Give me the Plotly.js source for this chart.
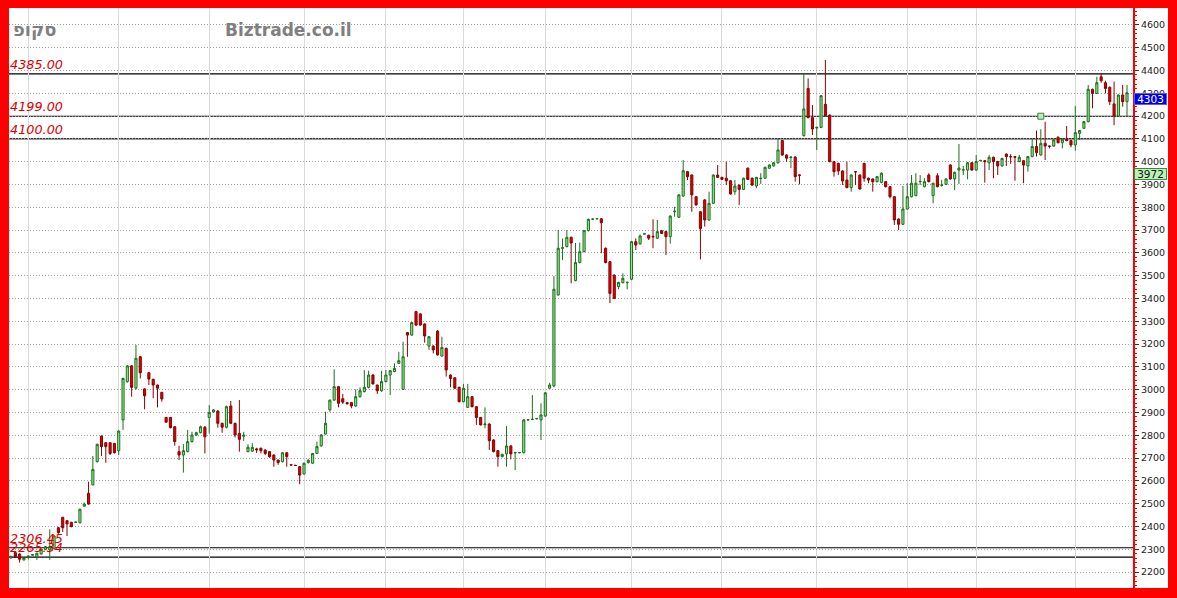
<!DOCTYPE html>
<html><head><meta charset="utf-8">
<script src="https://cdn.plot.ly/plotly-3.0.1.min.js"></script>
<style>html,body{margin:0;padding:0;background:#ff0000;overflow:hidden}#chart{width:1177px;height:598px}</style>
</head><body><div id="chart"></div>
<script>
// ---- data ----
const openP = [2262,2285,2279,2253,2264,2274,2267,2279,2299,2298,2304,2394,2440,2425,2418,2418,2416,2489,2545,2582,
2684,2796,2767,2767,2764,2732,2867,3035,3104,3006,3144,3003,3074,3045,3020,2988,2878,2878,2837,2728,
2713,2728,2772,2801,2811,2835,2878,2902,2906,2852,2835,2928,2852,2808,2795,2728,2730,2740,2743,2735,
2728,2713,2691,2684,2723,2670,2668,2662,2630,2680,2677,2720,2753,2805,2911,2954,3013,2960,2943,2943,
2928,2969,2991,3010,3064,3020,2995,3035,3064,3079,3115,3001,3250,3239,3342,3332,3288,3191,3191,3257,
3147,3181,3064,3052,3010,2947,2922,2969,2925,2878,2846,2849,2779,2732,2706,2718,2753,2722,2723,2723,
2867,2869,2872,2867,2884,3006,3016,3415,3620,3627,3668,3478,3557,3605,3697,3747,3749,3749,3620,3561,
3502,3452,3469,3469,3484,3649,3639,3682,3677,3672,3664,3697,3693,3671,3780,3756,3849,3956,3941,3846,
3780,3832,3744,3817,3941,3931,3927,3916,3868,3897,3878,3971,3927,3893,3926,3927,3971,3981,3995,4092,
4029,4018,4020,3941,4114,4321,4193,4147,4150,4251,4204,4000,3992,3959,3919,3886,3956,3941,3992,3927,
3924,3912,3909,3912,3890,3846,3748,3725,3792,3846,3851,3912,3890,3941,3851,3938,3896,3900,3985,3924,
3963,3963,3963,3995,3963,4004,4004,3995,4019,4000,3981,4033,4022,4022,4000,4004,3981,4022,4066,4029,
4080,4068,4068,4107,4083,4098,4092,4073,4124,4146,4175,4317,4299,4372,4346,4326,4253,4200,4292,4263];
const highP = [2272,2288,2282,2266,2273,2278,2285,2302,2314,2387,2362,2398,2442,2428,2420,2420,2478,2505,2596,2709,
2763,2799,2770,2770,2766,2822,3052,3108,3108,3196,3148,3006,3078,3048,3022,2990,2880,2880,2840,2754,
2761,2823,2815,2815,2842,2840,2932,2914,2909,2855,2930,2950,2855,2954,2815,2760,2765,2745,2745,2738,
2730,2716,2693,2726,2726,2672,2670,2665,2680,2695,2722,2772,2805,2903,2956,3089,3016,2981,2946,2946,
3001,3010,3086,3083,3067,3022,3082,3086,3086,3115,3166,3210,3252,3297,3345,3335,3290,3235,3194,3260,
3232,3184,3067,3055,3013,3025,3025,2972,2928,2880,2922,2852,2782,2735,2719,2840,2756,2727,2726,2870,
2870,2976,2876,2940,2989,3030,3498,3700,3663,3700,3671,3643,3645,3700,3750,3750,3752,3752,3623,3564,
3505,3473,3510,3475,3652,3663,3680,3685,3679,3747,3744,3699,3695,3764,3802,3857,4007,3958,3944,3848,
3783,3835,3868,3944,3985,3933,4000,3919,3919,3899,3930,3974,3930,3933,3949,3978,3988,3998,4102,4095,
4032,4023,4023,3944,4387,4365,4248,4153,4292,4446,4207,4003,3995,3962,4000,3944,3958,3944,3995,3930,
3926,3937,3953,3915,3893,3849,3751,3893,3905,3941,3949,3941,3927,3949,3908,3949,3920,3927,3988,3956,
4077,3981,3998,3998,4029,4008,4007,4029,4022,4003,4017,4036,4033,4025,4029,4007,4025,4102,4136,4142,
4175,4070,4098,4110,4101,4156,4095,4244,4139,4178,4336,4320,4372,4387,4355,4329,4351,4295,4336,4336];
const lowP = [2258,2262,2241,2250,2255,2272,2253,2276,2296,2253,2300,2368,2375,2358,2396,2416,2413,2486,2495,2580,
2680,2709,2679,2713,2720,2713,2823,3030,2969,3000,3049,2914,3020,2962,2922,2947,2855,2830,2754,2691,
2636,2725,2768,2796,2808,2720,2808,2899,2833,2811,2830,2850,2790,2728,2775,2725,2728,2722,2720,2713,
2700,2662,2670,2680,2662,2667,2665,2585,2627,2675,2675,2718,2750,2803,2903,2950,2922,2937,2935,2918,
2925,2965,2988,3005,3022,2981,2990,3032,2976,3076,3112,2998,3144,3236,3280,3280,3206,3174,3159,3150,
3145,3057,3010,3003,2944,2944,2920,2922,2845,2843,2830,2735,2725,2662,2703,2662,2694,2647,2720,2720,
2864,2866,2869,2779,2880,3003,3010,3412,3568,3624,3466,3475,3554,3602,3694,3745,3747,3598,3554,3379,
3397,3440,3466,3440,3480,3612,3636,3680,3656,3620,3661,3683,3590,3640,3758,3753,3846,3919,3780,3807,
3571,3715,3741,3814,3928,3919,3897,3855,3854,3810,3875,3919,3894,3883,3902,3924,3968,3978,3992,4026,
4000,3971,3912,3900,4110,4190,4117,4051,4147,4198,3997,3934,3941,3897,3883,3868,3897,3877,3912,3905,
3868,3909,3905,3887,3839,3722,3700,3722,3789,3843,3848,3897,3887,3909,3817,3887,3890,3897,3921,3875,
3902,3941,3922,3960,3960,4001,3908,3963,3927,3941,3978,3981,3990,3916,3997,3905,3956,4019,4022,4026,
4007,4058,4065,4080,4058,4089,4063,4048,4095,4143,4172,4234,4296,4346,4299,4248,4160,4197,4241,4200];
const closeP = [2268,2267,2256,2263,2270,2276,2282,2299,2311,2311,2358,2372,2394,2411,2399,2419,2475,2498,2498,2650,
2760,2750,2750,2720,2723,2818,3049,3104,3010,3137,3074,2973,3046,3020,3006,2959,2857,2833,2772,2713,
2732,2772,2801,2811,2837,2793,2899,2911,2852,2835,2925,2852,2801,2782,2800,2747,2747,2736,2732,2720,
2706,2691,2680,2723,2706,2669,2667,2625,2677,2690,2720,2750,2801,2852,2954,3013,2940,2945,2938,2928,
2969,2995,3010,3064,3025,2995,3035,3064,3083,3093,3127,3144,3239,3294,3283,3283,3235,3232,3174,3152,
3185,3086,3049,3006,2947,3006,2969,2925,2878,2845,2849,2776,2728,2706,2716,2753,2718,2724,2724,2867,
2868,2870,2873,2889,2986,3020,3440,3620,3622,3668,3643,3557,3605,3697,3747,3748,3750,3732,3557,3422,
3400,3470,3488,3470,3649,3634,3674,3683,3664,3670,3693,3685,3671,3761,3782,3854,3960,3934,3854,3810,
3707,3744,3817,3941,3931,3922,3916,3858,3893,3878,3927,3922,3897,3931,3927,3975,3985,3995,4051,4029,
4015,4020,3934,3940,4231,4193,4143,4150,4289,4201,4000,3956,3959,3915,3886,3941,3955,3880,3927,3919,
3912,3934,3949,3890,3846,3744,3725,3792,3846,3905,3905,3913,3912,3912,3905,3890,3897,3924,3924,3953,
3972,3964,3995,3963,4000,4005,4000,4019,4000,3981,4014,4022,4021,4019,4019,3985,4022,4066,4039,4080,
4068,4067,4095,4083,4098,4092,4073,4127,4136,4175,4317,4299,4346,4355,4321,4263,4200,4292,4263,4302];
const monthStartIdx = [4,25,46,68,87,105,124,144,165,187,208,224,247];
const levelValues = [4385.00, 4199.00, 4100.00, 2306.45, 2265.34];
const levelLabels = ['4385.00','4199.00','4100.00','2306.45','2265.34'];
const yTickStart = 2200, yTickStep = 100;
const lastPrice = 4303;
const refPrice = 3972;
const signalIdx = [239];
const signalPrice = [4199];
const stockName = 'סקופ';
const siteName = 'Biztrade.co.il';

// ---- layout geometry ----
const W = 1177, H = 598, ML = 9, MR = 44, MT = 8, MB = 10;
const plotW = W - ML - MR, plotH = H - MT - MB;
const idx = openP.map((_, i) => i);
const n = idx.length;
const pxPer = (plotW - 8) / (n - 1);

const traces = [
  {
    type: 'candlestick', x: idx, open: openP, high: highP, low: lowP, close: closeP,
    increasing: {line: {color: '#1d6e1d', width: 1}, fillcolor: '#8fea8f'},
    decreasing: {line: {color: '#8a0000', width: 1}, fillcolor: '#dd0000'},
    whiskerwidth: 0, hoverinfo: 'skip', showlegend: false
  },
  {
    type: 'scatter', mode: 'markers', x: signalIdx, y: signalPrice,
    marker: {symbol: 'square', size: 6, color: '#b4eeb4', line: {color: '#4a7a4a', width: 1}},
    hoverinfo: 'skip', showlegend: false
  }
];

const shapes = [
  {type: 'rect', xref: 'paper', yref: 'paper', x0: 1, x1: 1 + 35 / plotW, y0: 0, y1: 1,
   fillcolor: '#ffffff', line: {width: 0}, layer: 'below'}
];
levelValues.forEach((v, k) => {
  shapes.push({type: 'line', xref: 'paper', x0: 0, x1: 1, yref: 'y', y0: v, y1: v,
    line: {color: k === 2 ? '#333333' : '#000000', width: k === 2 ? 1.5 : 1.2}, layer: 'between'});
});

const annotations = [];
levelValues.forEach((v, k) => {
  annotations.push({xref: 'paper', x: 0, xanchor: 'left', yref: 'y', y: v, yanchor: 'bottom',
    text: '<i>' + levelLabels[k] + '</i>', showarrow: false, borderpad: 0, yshift: 1,
    font: {family: 'DejaVu Sans', size: 12.8, color: '#dd0000'}});
});
annotations.push({xref: 'paper', x: 2 / plotW, xanchor: 'left', yref: 'paper', y: 1 - 22 / plotH, yanchor: 'middle',
  text: '<b>' + stockName + '</b>', showarrow: false, font: {family: 'DejaVu Sans', size: 18, color: '#808080'}});
annotations.push({xref: 'paper', x: 214 / plotW, xanchor: 'left', yref: 'paper', y: 1 - 22 / plotH, yanchor: 'middle',
  text: '<b>' + siteName + '</b>', showarrow: false, font: {family: 'DejaVu Sans', size: 17, color: '#808080'}});
annotations.push({xref: 'paper', x: 1, xanchor: 'left', xshift: 1, yref: 'y', y: lastPrice, yanchor: 'top',
  text: String(lastPrice), showarrow: false, bgcolor: '#0000dd', bordercolor: '#5a5aff', borderwidth: 1, borderpad: 0,
  width: 31, height: 10, font: {family: 'DejaVu Sans', size: 10.5, color: '#ffffff'}});
annotations.push({xref: 'paper', x: 1, xanchor: 'left', xshift: 1, yref: 'y', y: refPrice, yanchor: 'top',
  text: String(refPrice), showarrow: false, bgcolor: '#b8f2b8', bordercolor: '#3a8a3a', borderwidth: 1, borderpad: 0,
  width: 31, height: 10, font: {family: 'DejaVu Sans', size: 10.5, color: '#111111'}});

const yTop = 2200 + (572 - 8) / 0.228;
const yBot = 2200 - (588 - 572) / 0.228;

const layout = {
  width: W, height: H,
  margin: {l: ML, r: MR, t: MT, b: MB, pad: 0},
  paper_bgcolor: '#ff0000', plot_bgcolor: '#ffffff',
  font: {family: 'DejaVu Sans'},
  showlegend: false,
  xaxis: {
    range: [-2 / pxPer, (n - 1) + 6 / pxPer], rangeslider: {visible: false},
    tickmode: 'array', tickvals: monthStartIdx, showticklabels: false, ticks: '',
    showgrid: true, gridcolor: '#dadada', gridwidth: 1, zeroline: false, showline: false, fixedrange: true
  },
  yaxis: {
    side: 'right', range: [yBot, yTop], tick0: yTickStart, dtick: yTickStep,
    showgrid: true, gridcolor: '#a0a0a0', griddash: '1px,2px', gridwidth: 1, zeroline: false,
    showline: true, linecolor: '#ff0000', linewidth: 2,
    ticks: 'outside', ticklen: 4, tickcolor: '#333333', tickwidth: 1,
    tickfont: {family: 'DejaVu Sans', size: 9.5, color: '#222222'},
    minor: {ticks: 'outside', ticklen: 2, tickcolor: '#ff0000', tickwidth: 1, dtick: 20, showgrid: false},
    fixedrange: true
  },
  shapes: shapes,
  annotations: annotations
};

Plotly.newPlot('chart', traces, layout, {staticPlot: true, displayModeBar: false});
</script>
</body></html>
